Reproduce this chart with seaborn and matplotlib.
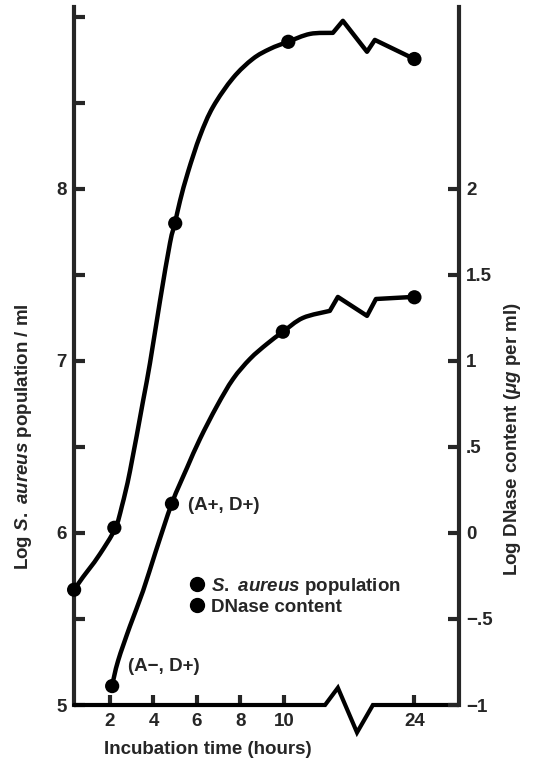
import numpy as np
import pandas as pd
import matplotlib
matplotlib.use("Agg")
import matplotlib.pyplot as plt
from matplotlib.lines import Line2D
from matplotlib.path import Path
from matplotlib.patches import PathPatch
import seaborn as sns

sns.set_theme(style="ticks")
plt.rcParams["font.family"] = ["Liberation Sans", "DejaVu Sans"]
plt.rcParams["font.weight"] = "bold"
plt.rcParams["mathtext.fontset"] = "custom"
plt.rcParams["mathtext.it"] = "Liberation Sans:italic:bold"
plt.rcParams["mathtext.rm"] = "Liberation Sans:bold"

# ---- measured samples -------------------------------------------------
sa_hours = [0.35, 2.2, 5.0, 10.2, 24]          # S. aureus sampling times (h)
sa_log = [5.67, 6.03, 7.80, 8.855, 8.755]       # log S. aureus / ml
dn_hours = [2.1, 4.85, 9.95, 24]                # DNase sampling times (h)
dn_log = [-0.89, 0.17, 1.17, 1.37]              # log DNase (ug per ml)

# hand-drawn growth curves, as axis positions (24 h sits at position 16)
sa_curve_pos = [0.345, 0.76, 1.08, 1.54, 2.23, 2.55, 2.92, 3.52, 3.84, 4.30,
                4.76, 4.99, 5.22, 5.59, 6.14, 6.74, 7.66, 8.57, 9.36, 10.18,
                11.20, 12.25, 12.71, 13.82, 14.18, 15.98]
sa_curve_log = [5.669, 5.744, 5.797, 5.878, 6.023, 6.157, 6.360, 6.767, 6.988,
                7.349, 7.686, 7.802, 7.930, 8.099, 8.308, 8.477, 8.645, 8.756,
                8.814, 8.855, 8.901, 8.907, 8.977, 8.797, 8.866, 8.756]
sa_smooth_n = 22      # points before the zig-zag break
dn_curve_pos = [2.09, 2.37, 2.92, 3.52, 4.11, 4.85, 5.54, 6.14, 6.92, 7.66,
                8.44, 9.22, 9.95, 10.87, 12.11, 12.48, 13.82, 14.23, 15.93]
dn_curve_log = [-0.890, -0.744, -0.541, -0.337, -0.105, 0.174, 0.378, 0.547,
                0.738, 0.895, 1.012, 1.099, 1.169, 1.250, 1.291, 1.372, 1.262,
                1.360, 1.372]
dn_smooth_n = 15

x_tick_hours = [2, 4, 6, 8, 10, 24]
x_tick_labels = ["2", "4", "6", "8", "10", "24"]
left_major = [5, 6, 7, 8]
left_minor = [5.5, 6.5, 7.5, 8.5, 9]
right_ticks = [-1, -0.5, 0, 0.5, 1, 1.5, 2]
right_tick_labels = ["\u22121", "\u2212.5", "0", ".5", "1", "1.5", "2"]


def axis_pos(hours):
    """Map hours onto the broken time axis (10 h ... 24 h is compressed)."""
    h = np.asarray(hours, dtype=float)
    return np.where(h > 12, h - 8, h)


def curve_path(xs, ys, n_smooth):
    """Smooth Bezier path through the first n_smooth points, straight after."""
    pts = np.column_stack([xs, ys]).astype(float)
    verts = [pts[0]]
    codes = [Path.MOVETO]
    for i in range(n_smooth - 1):
        p0 = pts[i - 1] if i > 0 else pts[i]
        p1, p2 = pts[i], pts[i + 1]
        p3 = pts[i + 2] if i + 2 < n_smooth else pts[i + 1]
        verts += [p1 + (p2 - p0) / 6, p2 - (p3 - p1) / 6, p2]
        codes += [Path.CURVE4] * 3
    for j in range(n_smooth, len(pts)):
        verts.append(pts[j])
        codes.append(Path.LINETO)
    return Path(np.array(verts), codes)


LW = 3.2
FS = 13.5

fig = plt.figure(figsize=(5.36, 7.62), dpi=100)
ax = fig.add_axes([74 / 536, 57 / 762, 385 / 536, 697.6 / 762])
ax2 = ax.twinx()

# S. aureus population (left axis)
ax.add_patch(PathPatch(curve_path(sa_curve_pos, sa_curve_log, sa_smooth_n),
                       facecolor="none", edgecolor="black", linewidth=LW,
                       capstyle="round", joinstyle="round"))
sns.scatterplot(x=axis_pos(sa_hours), y=sa_log, ax=ax, color="black", s=105,
                edgecolor="none", zorder=5, clip_on=False)

# DNase content (right axis)
ax2.add_patch(PathPatch(curve_path(dn_curve_pos, dn_curve_log, dn_smooth_n),
                        facecolor="none", edgecolor="black", linewidth=LW,
                        capstyle="round", joinstyle="round"))
sns.scatterplot(x=axis_pos(dn_hours), y=dn_log, ax=ax2, color="black", s=105,
                edgecolor="none", zorder=5, clip_on=False)

xlim = (0.345, 18.05)
ax.set_xlim(*xlim)
ax2.set_xlim(*xlim)
ax.set_ylim(5, 9.055)
ax2.set_ylim(-1, 3.055)

# spines
for s in ["top", "right", "bottom"]:
    ax.spines[s].set_visible(False)
for s in ["top", "left", "bottom"]:
    ax2.spines[s].set_visible(False)
ax.spines["left"].set_linewidth(3)
ax2.spines["right"].set_linewidth(3)

# time axis with a zig-zag break between 10 h and 24 h
brk_x = [xlim[0], 11.89, 12.48, 13.36, 14.09, xlim[1]]
brk_y = [5, 5, 5.10, 4.84, 5, 5]
ax.plot(brk_x, brk_y, color="black", linewidth=3, clip_on=False,
        solid_joinstyle="miter", zorder=4)

ax.set_xticks(axis_pos(x_tick_hours))
ax.set_xticklabels(x_tick_labels)
ax.tick_params(axis="x", direction="in", length=7, width=3, pad=6,
               labelsize=FS, bottom=True)
ax.set_yticks(left_major)
ax.set_yticklabels([str(v) for v in left_major])
ax.set_yticks(left_minor, minor=True)
ax.tick_params(axis="y", which="both", direction="in", length=8, width=3,
               pad=5, labelsize=FS)
ax2.set_yticks(right_ticks)
ax2.set_yticklabels(right_tick_labels)
ax2.tick_params(axis="y", direction="in", length=8, width=3, pad=5,
                labelsize=FS)
ax2.tick_params(axis="x", bottom=False, labelbottom=False)

ax.set_xlabel("Incubation time (hours)", fontsize=FS, fontweight="bold")
ax.xaxis.set_label_coords(0.348, -0.052)
ax.set_ylabel(r"Log $\mathit{S.\ aureus}$ population / ml", fontsize=FS,
              fontweight="bold")
ax.yaxis.set_label_coords(-0.104, 0.385)
ax2.set_ylabel(r"Log DNase content ($\mathit{\mu g}$ per ml)", fontsize=FS,
               fontweight="bold")
ax2.yaxis.set_label_coords(1.112, 0.381)

# strain labels next to the DNase samples
ax2.annotate("(A+, D+)", xy=(axis_pos(dn_hours)[1], dn_log[1]),
             xytext=(11.5, -1.5), textcoords="offset points", fontsize=FS,
             fontweight="bold", va="center", ha="left")
ax2.annotate("(A\u2212, D+)", xy=(axis_pos(dn_hours)[0], dn_log[0]),
             xytext=(11.5, 14.4), textcoords="offset points", fontsize=FS,
             fontweight="bold", va="center", ha="left")

handles = [Line2D([], [], marker="o", color="black", linestyle="none",
                  markersize=10),
           Line2D([], [], marker="o", color="black", linestyle="none",
                  markersize=10)]
ax2.legend(handles, [r"$\mathit{S.\ aureus}$ population", "DNase content"],
           loc="upper left", bbox_to_anchor=(189 / 536, 1 - 576 / 762),
           bbox_transform=fig.transFigure, frameon=False, fontsize=FS,
           handlelength=0.8, handletextpad=0.35, labelspacing=0.1,
           borderpad=0, borderaxespad=0)

fig.savefig("out.png", dpi=100)
